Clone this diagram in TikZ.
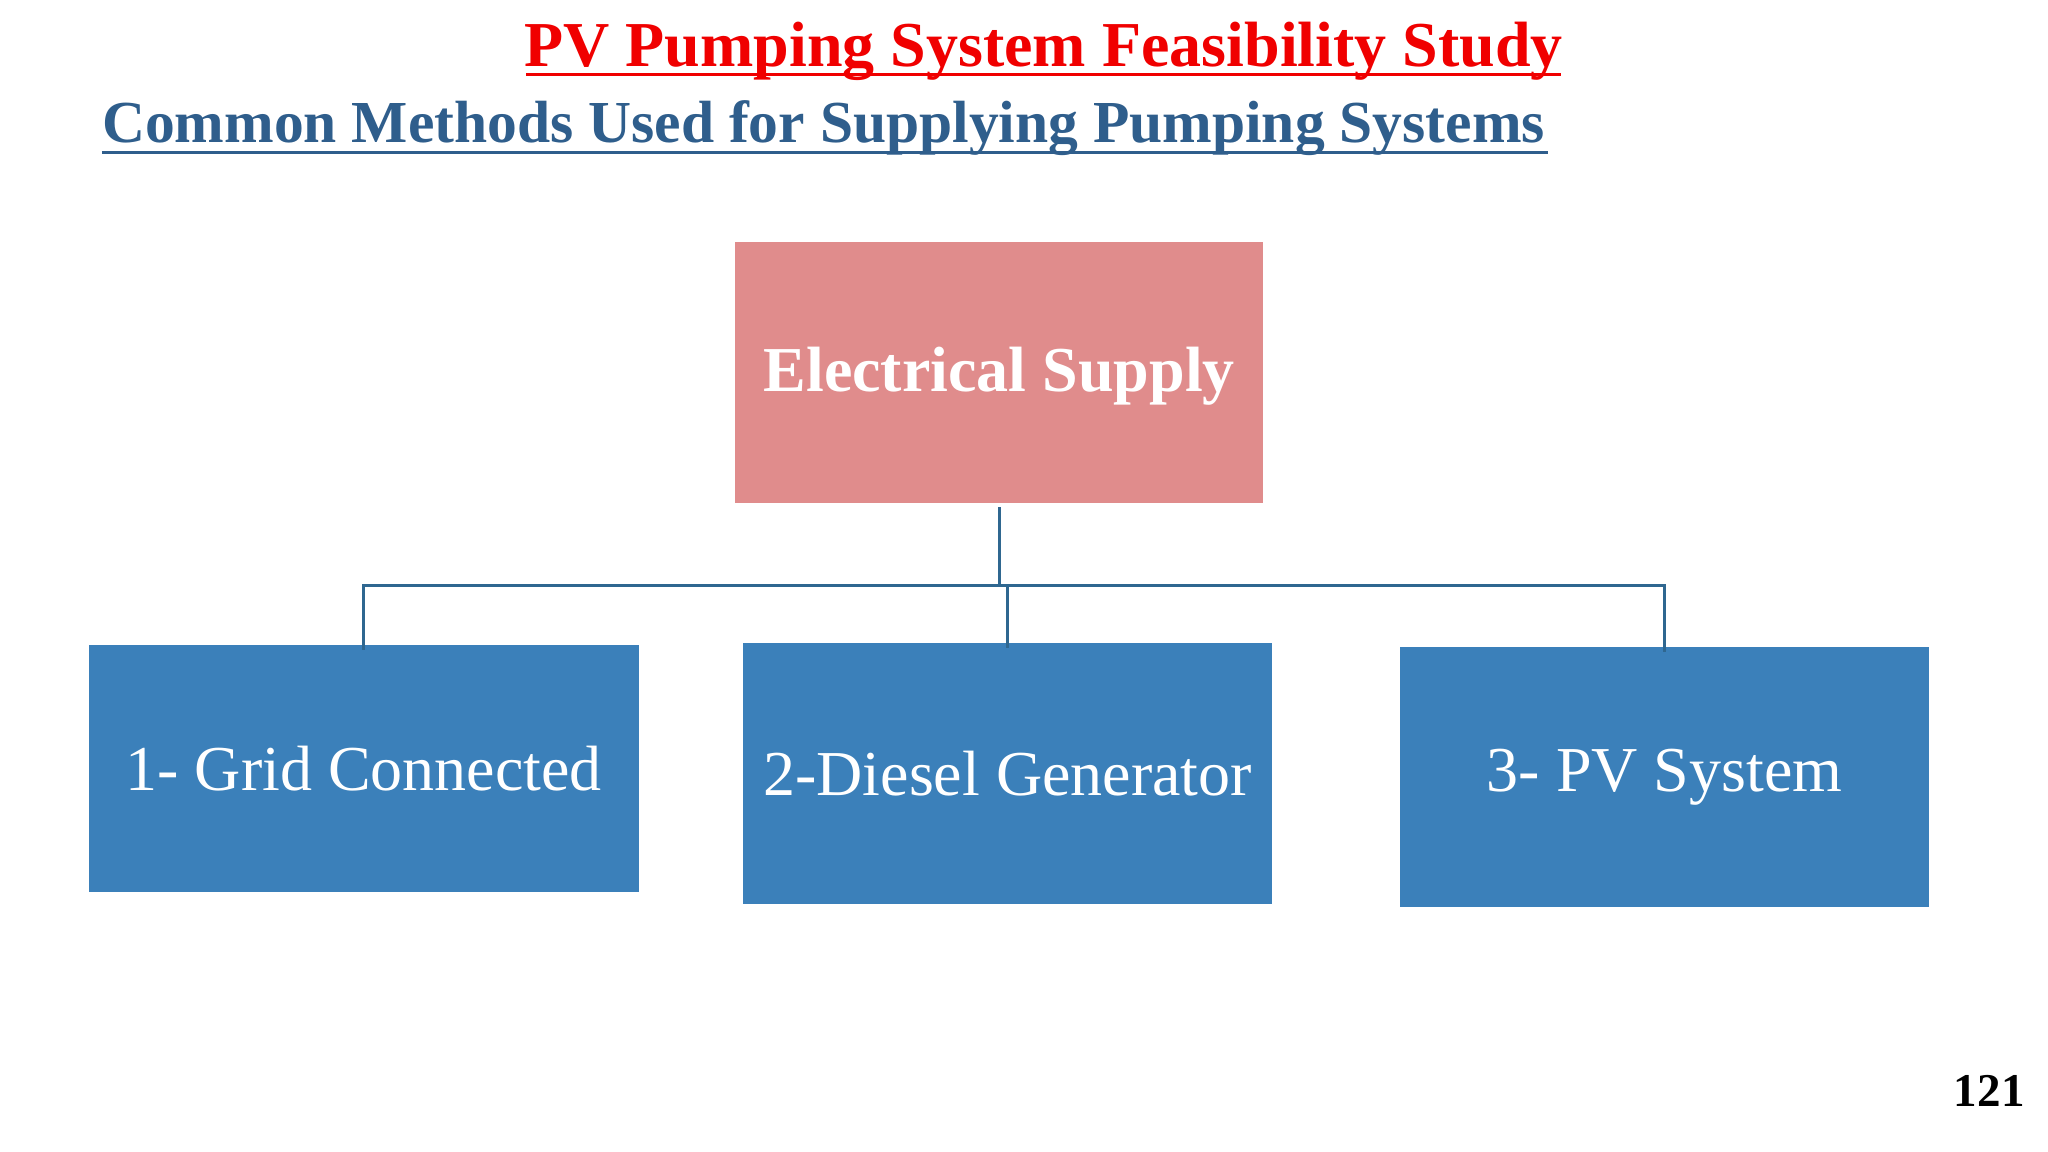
\documentclass[tikz,border=0pt]{standalone}
\usepackage{fontspec}
\setmainfont{Liberation Serif}
\definecolor{ttlred}{HTML}{F00000}
\definecolor{subblue}{HTML}{2F5E8C}
\definecolor{pinkbox}{HTML}{E08C8C}
\definecolor{bluebox}{HTML}{3B80BA}
\definecolor{conn}{HTML}{2F6790}
\begin{document}
\begin{tikzpicture}[x=1pt,y=-1pt,
  box/.style={draw=none,minimum width=#1,inner sep=0pt,text=white,align=center},
  con/.style={draw=conn,line width=2.5pt}]
\useasboundingbox[fill=white] (0,0) rectangle (1568,882);
\node[text=ttlred,font=\fontsize{49}{54}\selectfont\bfseries,anchor=base,inner sep=0pt] (t) at (799,51) {PV Pumping System Feasibility Study};
\draw[ttlred,line width=2.5pt] (403,57) -- (1195,57);
\node[text=subblue,font=\fontsize{45.6}{50}\selectfont\bfseries,anchor=base west,inner sep=0pt] (s) at (78,109) {Common Methods Used for Supplying Pumping Systems};
\draw[subblue,line width=2.5pt] (78,117) -- (1185,117);
\node[box=404pt,minimum height=200pt,fill=pinkbox] (e) at (765,285) {};
\node[text=white,font=\fontsize{49}{54}\selectfont\bfseries] at (765,288) {Electrical Supply};
\node[box=421pt,minimum height=189pt,fill=bluebox,font=\fontsize{49}{54}\selectfont] (g) at (278.5,588.5) {1- Grid Connected};
\node[box=405pt,minimum height=200pt,fill=bluebox,font=\fontsize{49}{54}\selectfont] (d) at (771.5,592) {2-Diesel Generator};
\node[box=405pt,minimum height=199pt,fill=bluebox,font=\fontsize{49}{54}\selectfont] (p) at (1274.5,595) {3- PV System};
\coordinate (j) at (765,448);
\draw[con] ([yshift=-3pt]e.south) -- (j);
\draw[con] (j) -| ([yshift=-4pt]g.north);
\draw[con] (j) -| ([yshift=-4pt]p.north);
\draw[con] (771.5,448) -- ([yshift=-4pt]d.north);
\node[font=\fontsize{36}{40}\selectfont\bfseries] (n) at (1523,835) {121};
\end{tikzpicture}
\end{document}
